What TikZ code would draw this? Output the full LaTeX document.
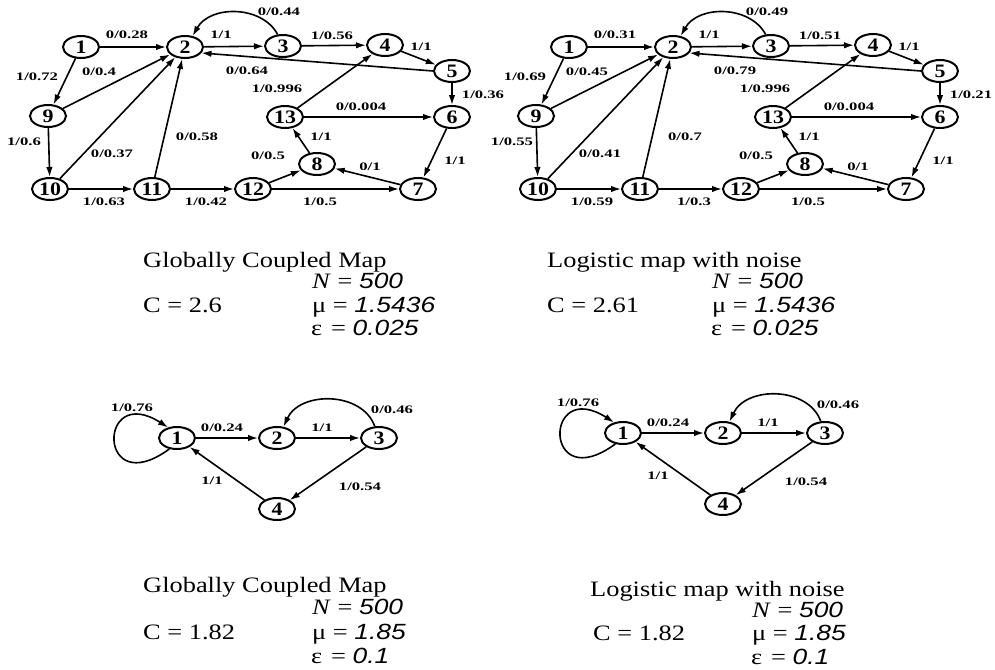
\documentclass[tikz,border=0pt]{standalone}
\usepackage{fontspec}
\setmainfont{Liberation Serif}
\newfontfamily\labfont[FakeStretch=1.45]{Liberation Serif}
\newfontfamily\numfont[FakeStretch=1.15]{Liberation Serif}
\newfontfamily\capfont[FakeStretch=1.2]{Liberation Serif}
\newfontfamily\capsans[FakeStretch=1.2]{Liberation Sans}
\usetikzlibrary{shapes.geometric,arrows.meta}
\tikzset{
 stnode/.style={ellipse, draw, line width=2pt, minimum width=36pt, minimum height=22pt, inner sep=0pt, font=\numfont\bfseries\fontsize{19}{19}\selectfont},
 arr/.style={line width=1.6pt, -{Latex[length=10pt,width=6.5pt]}},
 edgelab/.style={font=\labfont\bfseries\fontsize{11.5}{11.5}\selectfont, inner sep=0pt},
 captxt/.style={font=\capfont\fontsize{22}{24}\selectfont, anchor=base west, inner sep=0pt},
}
\newcommand{\sit}[1]{{\capsans\itshape #1}}
\newcommand{\UpGraph}[2]{%
\begin{scope}[xshift=#2]
\node[stnode] (#1-1) at (81,47) {1};
\node[stnode] (#1-2) at (185,47) {2};
\node[stnode] (#1-3) at (283,46) {3};
\node[stnode] (#1-4) at (385,45) {4};
\node[stnode] (#1-5) at (452,71) {5};
\node[stnode] (#1-6) at (452,117) {6};
\node[stnode] (#1-7) at (418,189) {7};
\node[stnode] (#1-8) at (317,164) {8};
\node[stnode] (#1-9) at (48,116) {9};
\node[stnode] (#1-10) at (50,189) {10};
\node[stnode] (#1-11) at (152,189) {11};
\node[stnode] (#1-12) at (253,189) {12};
\node[stnode] (#1-13) at (285,117) {13};
\draw[arr] (#1-1) -- (#1-2);
\draw[arr] (#1-2) -- (#1-3);
\draw[arr] (#1-3.115) .. controls (262,5) and (210,5) .. (#1-2.55);
\draw[arr] (#1-3) -- (#1-4);
\draw[arr] (#1-4) -- (#1-5);
\draw[arr] (#1-5.west) -- (#1-2.-20);
\draw[arr] (#1-5) -- (#1-6);
\draw[arr] (#1-13) -- (#1-4);
\draw[arr] (#1-13) -- (#1-6);
\draw[arr] (#1-8) -- (#1-13);
\draw[arr] (#1-12) -- (#1-8);
\draw[arr] (#1-7) -- (#1-8);
\draw[arr] (#1-12) -- (#1-7);
\draw[arr] (#1-6) -- (#1-7);
\draw[arr] (#1-1) -- (#1-9);
\draw[arr] (#1-9) -- (#1-2);
\draw[arr] (#1-9) -- (#1-10);
\draw[arr] (#1-10) -- (#1-2);
\draw[arr] (#1-11) -- (#1-2);
\draw[arr] (#1-10) -- (#1-11);
\draw[arr] (#1-11) -- (#1-12);
\node[edgelab] (#1-l1) at (127,35) {\LA};
\node[edgelab] (#1-l2) at (221,35) {1/1};
\node[edgelab] (#1-l3) at (279,12) {\LB};
\node[edgelab] (#1-l4) at (332,36) {\LC};
\node[edgelab] (#1-l5) at (421,47) {1/1};
\node[edgelab] (#1-l6) at (247,71) {\LD};
\node[edgelab] (#1-l7) at (483,95) {\LE};
\node[edgelab] (#1-l8) at (277,89) {1/0.996};
\node[edgelab] (#1-l9) at (361,107) {0/0.004};
\node[edgelab] (#1-l10) at (321,137) {1/1};
\node[edgelab] (#1-l11) at (268,156) {0/0.5};
\node[edgelab] (#1-l12) at (370,167) {0/1};
\node[edgelab] (#1-l13) at (320,202) {1/0.5};
\node[edgelab] (#1-l14) at (455,161) {1/1};
\node[edgelab] (#1-l15) at (37,77) {\LF};
\node[edgelab] (#1-l16) at (99,72) {\LG};
\node[edgelab] (#1-l17) at (24,142) {\LH};
\node[edgelab] (#1-l18) at (112,154) {\LI};
\node[edgelab] (#1-l19) at (197,137) {\LJ};
\node[edgelab] (#1-l20) at (104,202) {\LK};
\node[edgelab] (#1-l21) at (206,202) {\LL};
\end{scope}}
\newcommand{\LowGraph}[3]{%
\begin{scope}[xshift=#2, yshift=#3]
\node[stnode] (#1-1) at (177,438) {1};
\node[stnode] (#1-2) at (277,438) {2};
\node[stnode] (#1-3) at (379,438) {3};
\node[stnode] (#1-4) at (277,509) {4};
\draw[arr] (#1-1.235) .. controls (97,502) and (97,382) .. (#1-1.130);
\draw[arr] (#1-1) -- (#1-2);
\draw[arr] (#1-2) -- (#1-3);
\draw[arr] (#1-3.110) .. controls (362,391) and (300,391) .. (#1-2.60);
\draw[arr] (#1-3) -- (#1-4);
\draw[arr] (#1-4) -- (#1-1);
\node[edgelab] (#1-l1) at (132,408) {1/0.76};
\node[edgelab] (#1-l2) at (222,428) {0/0.24};
\node[edgelab] (#1-l3) at (322,428) {1/1};
\node[edgelab] (#1-l4) at (392,410) {0/0.46};
\node[edgelab] (#1-l5) at (360,487) {1/0.54};
\node[edgelab] (#1-l6) at (212,481) {1/1};
\end{scope}}
\begin{document}
\begin{tikzpicture}[x=1pt,y=-1pt]
\path[use as bounding box] (0,0) rectangle (995,669);
% upper left
\def\LA{0/0.28}\def\LB{0/0.44}\def\LC{1/0.56}\def\LD{0/0.64}\def\LE{1/0.36}
\def\LF{1/0.72}\def\LG{0/0.4}\def\LH{1/0.6}\def\LI{0/0.37}\def\LJ{0/0.58}
\def\LK{1/0.63}\def\LL{1/0.42}
\UpGraph{a}{0pt}
% upper right
\def\LA{0/0.31}\def\LB{0/0.49}\def\LC{1/0.51}\def\LD{0/0.79}\def\LE{1/0.21}
\def\LF{1/0.69}\def\LG{0/0.45}\def\LH{1/0.55}\def\LI{0/0.41}\def\LJ{0/0.7}
\def\LK{1/0.59}\def\LL{1/0.3}
\UpGraph{b}{488pt}
\LowGraph{c}{0pt}{0pt}
\LowGraph{d}{446pt}{5pt}
% captions
\node[captxt] (t1) at (143,267) {Globally Coupled Map};
\node[captxt] (t2) at (312,288) {\textit{N} = \sit{500}};
\node[captxt] (t3) at (143,312) {C = 2.6};
\node[captxt] (t4) at (312,312) {μ = \sit{1.5436}};
\node[captxt] (t5) at (311,335) {ε\hspace{0.4em}= \sit{0.025}};
\node[captxt] (u1) at (547,267) {Logistic map with noise};
\node[captxt] (u2) at (712,288) {\textit{N} = \sit{500}};
\node[captxt] (u3) at (547,312) {C = 2.61};
\node[captxt] (u4) at (712,312) {μ = \sit{1.5436}};
\node[captxt] (u5) at (711,335) {ε\hspace{0.4em}= \sit{0.025}};
\node[captxt] (v1) at (143,592) {Globally Coupled Map};
\node[captxt] (v2) at (312,614) {\textit{N} = \sit{500}};
\node[captxt] (v3) at (143,639) {C = 1.82};
\node[captxt] (v4) at (312,639) {μ = \sit{1.85}};
\node[captxt] (v5) at (311,663) {ε\hspace{0.4em}= \sit{0.1}};
\node[captxt] (w1) at (590,596) {Logistic map with noise};
\node[captxt] (w2) at (752,617) {\textit{N} = \sit{500}};
\node[captxt] (w3) at (593,640) {C = 1.82};
\node[captxt] (w4) at (752,640) {μ = \sit{1.85}};
\node[captxt] (w5) at (751,664) {ε\hspace{0.4em}= \sit{0.1}};
\end{tikzpicture}
\end{document}
